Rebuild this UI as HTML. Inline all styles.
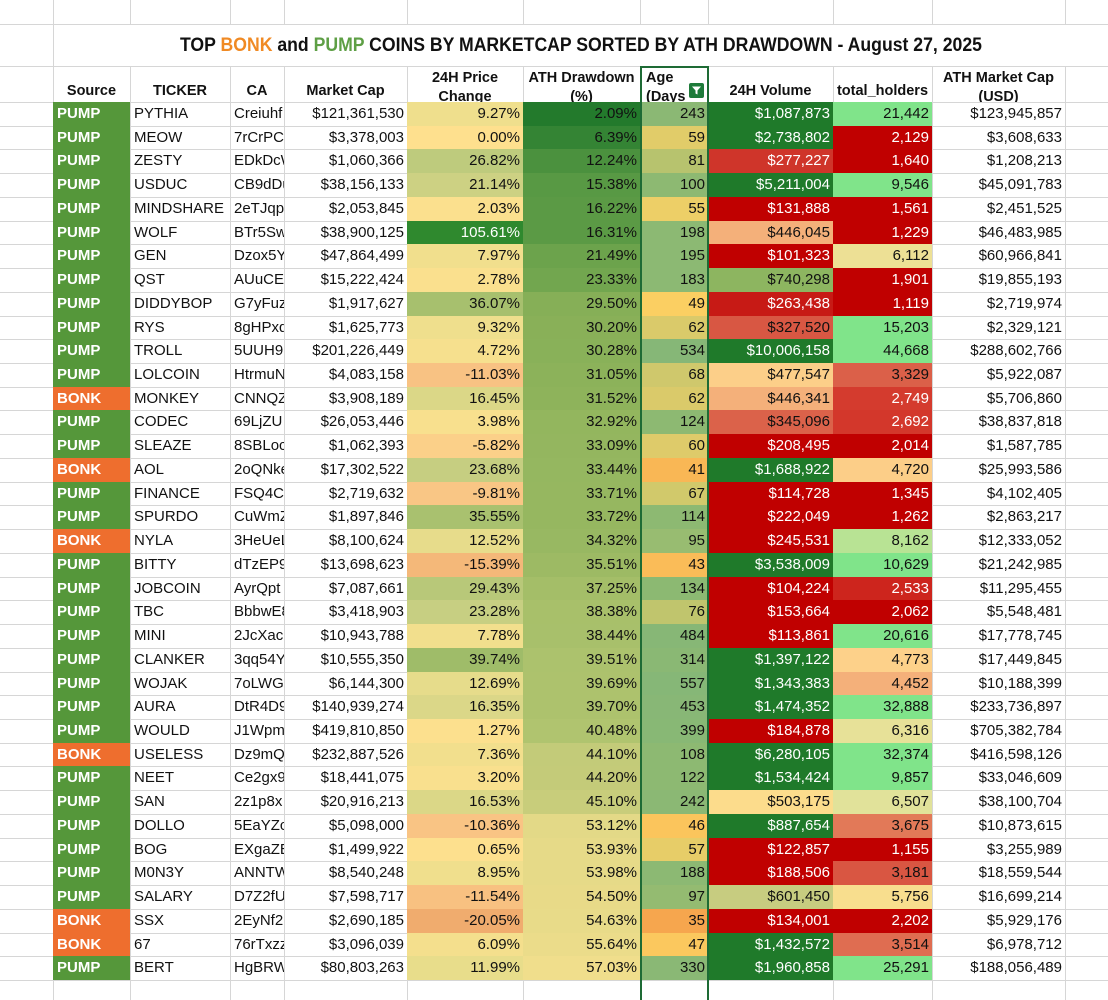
<!DOCTYPE html>
<html><head><meta charset="utf-8">
<style>
html,body{margin:0;padding:0;background:#fff;}
#sheet{position:relative;width:1108px;height:1000px;overflow:hidden;background:#fff;font-family:"Liberation Sans",sans-serif;}
.vl{position:absolute;width:1px;background:#d6d6d6;}
.hl{position:absolute;height:1px;background:#d6d6d6;}
.c{position:absolute;box-sizing:border-box;overflow:hidden;white-space:nowrap;font-size:15px;line-height:23px;color:#111;}
.l{padding-left:4px;text-align:left;}
.r{padding-right:3px;text-align:right;}
.src{color:#fff;font-weight:bold;}
.h{position:absolute;box-sizing:border-box;overflow:hidden;font-weight:bold;font-size:14.5px;text-align:center;color:#111;line-height:19px;}
</style></head>
<body>
<div id="sheet">
  <div id="title" style="position:absolute;left:53px;top:28px;width:1055px;height:36px;text-align:center;line-height:36px;font-weight:bold;font-size:19px;color:#111;white-space:nowrap;"><span id="tspan" style="display:inline-block;transform-origin:center;">TOP <span style="color:#F08A24">BONK</span> and <span style="color:#5E9F45">PUMP</span> COINS BY MARKETCAP SORTED BY ATH DRAWDOWN - August 27, 2025</span></div>
</div>
<script>
const sources=["PUMP","PUMP","PUMP","PUMP","PUMP","PUMP","PUMP","PUMP","PUMP","PUMP","PUMP","PUMP","BONK","PUMP","PUMP","BONK","PUMP","PUMP","BONK","PUMP","PUMP","PUMP","PUMP","PUMP","PUMP","PUMP","PUMP","BONK","PUMP","PUMP","PUMP","PUMP","PUMP","PUMP","BONK","BONK","PUMP"];
const tickers=["PYTHIA","MEOW","ZESTY","USDUC","MINDSHARE","WOLF","GEN","QST","DIDDYBOP","RYS","TROLL","LOLCOIN","MONKEY","CODEC","SLEAZE","AOL","FINANCE","SPURDO","NYLA","BITTY","JOBCOIN","TBC","MINI","CLANKER","WOJAK","AURA","WOULD","USELESS","NEET","SAN","DOLLO","BOG","M0N3Y","SALARY","SSX","67","BERT"];
const cas=["Creiuhf","7rCrPCf","EDkDcW","CB9dDu","2eTJqpI","BTr5Sw","Dzox5Y","AUuCEk","G7yFuz","8gHPxq","5UUH9","HtrmuN","CNNQZ","69LjZU","8SBLocl","2oQNke","FSQ4CB","CuWmZ","3HeUeL","dTzEP9","AyrQpt","BbbwE8","2JcXacF","3qq54Y","7oLWGI","DtR4D9","J1Wpm","Dz9mQ","Ce2gx9","2z1p8x","5EaYZc","EXgaZE","ANNTW","D7Z2fU","2EyNf2I","76rTxzz","HgBRW"];
const marketCap=[121361530,3378003,1060366,38156133,2053845,38900125,47864499,15222424,1917627,1625773,201226449,4083158,3908189,26053446,1062393,17302522,2719632,1897846,8100624,13698623,7087661,3418903,10943788,10555350,6144300,140939274,419810850,232887526,18441075,20916213,5098000,1499922,8540248,7598717,2690185,3096039,80803263];
const priceChange=[9.27,0.00,26.82,21.14,2.03,105.61,7.97,2.78,36.07,9.32,4.72,-11.03,16.45,3.98,-5.82,23.68,-9.81,35.55,12.52,-15.39,29.43,23.28,7.78,39.74,12.69,16.35,1.27,7.36,3.20,16.53,-10.36,0.65,8.95,-11.54,-20.05,6.09,11.99];
const drawdown=[2.09,6.39,12.24,15.38,16.22,16.31,21.49,23.33,29.50,30.20,30.28,31.05,31.52,32.92,33.09,33.44,33.71,33.72,34.32,35.51,37.25,38.38,38.44,39.51,39.69,39.70,40.48,44.10,44.20,45.10,53.12,53.93,53.98,54.50,54.63,55.64,57.03];
const ageDays=[243,59,81,100,55,198,195,183,49,62,534,68,62,124,60,41,67,114,95,43,134,76,484,314,557,453,399,108,122,242,46,57,188,97,35,47,330];
const volume=[1087873,2738802,277227,5211004,131888,446045,101323,740298,263438,327520,10006158,477547,446341,345096,208495,1688922,114728,222049,245531,3538009,104224,153664,113861,1397122,1343383,1474352,184878,6280105,1534424,503175,887654,122857,188506,601450,134001,1432572,1960858];
const holders=[21442,2129,1640,9546,1561,1229,6112,1901,1119,15203,44668,3329,2749,2692,2014,4720,1345,1262,8162,10629,2533,2062,20616,4773,4452,32888,6316,32374,9857,6507,3675,1155,3181,5756,2202,3514,25291];
const athCap=[123945857,3608633,1208213,45091783,2451525,46483985,60966841,19855193,2719974,2329121,288602766,5922087,5706860,38837818,1587785,25993586,4102405,2863217,12333052,21242985,11295455,5548481,17778745,17449845,10188399,233736897,705382784,416598126,33046609,38100704,10873615,3255989,18559544,16699214,5929176,6978712,188056489];

const sheet=document.getElementById('sheet');
const colX=[0,53,130,230,284,407,523,640,708,833,932,1065,1108];
const rowTop=102, rowH=23.73, nRows=sources.length;

function hex(h){return [parseInt(h.substr(1,2),16),parseInt(h.substr(3,2),16),parseInt(h.substr(5,2),16)];}
function scale(stops,v){
  if(v<=stops[0][0]) return stops[0][1];
  for(let i=1;i<stops.length;i++){
    if(v<=stops[i][0]){
      const a=stops[i-1],b=stops[i],t=(v-a[0])/(b[0]-a[0]);
      const ca=hex(a[1]),cb=hex(b[1]);
      return 'rgb('+ca.map((x,k)=>Math.round(x+(cb[k]-x)*t)).join(',')+')';
    }
  }
  return stops[stops.length-1][1];
}
const pcStops=[[-20,'#F0AC6E'],[-10,'#F9C585'],[0,'#FEE08E'],[10,'#EEDF8D'],[24,'#C5CE81'],[39,'#A0BD6A'],[106,'#2E892E']];
const ddStops=[[2,'#237A2C'],[16,'#5A9A45'],[30,'#88B058'],[40,'#AEC36E'],[45,'#C8CD7B'],[57,'#F0DE8C']];
const ageStops=[[35,'#F6A64E'],[45,'#FBC25A'],[50,'#FBD264'],[60,'#DECB6A'],[80,'#B9C46E'],[100,'#8DB972'],[560,'#86B777']];
const volStops=[[0,'#C00000'],[250000,'#C00000'],[280000,'#D03A2E'],[340000,'#DA5E48'],[446000,'#F4B07A'],[480000,'#FDD18A'],[503000,'#FCDC8C'],[600000,'#C8CC80'],[740000,'#8DB560'],[880000,'#1F7A2A'],[1e9,'#1F7A2A']];
const holdStops=[[0,'#C00000'],[2200,'#C00000'],[2700,'#D3382C'],[3300,'#DA5E48'],[4452,'#F4B07A'],[4750,'#FDD18A'],[5756,'#F8DE8E'],[6400,'#E4E29A'],[8162,'#B8E394'],[9500,'#80E48A'],[1e9,'#80E48A']];

const fmtMoney=v=>'$'+v.toLocaleString('en-US');
const fmtInt=v=>v.toLocaleString('en-US');
const fmtPct=v=>v.toFixed(2)+'%';

function cell(col,row,text,cls,bg,color,name){
  const d=document.createElement('div');
  d.className='c '+cls;
  const y=rowTop+row*rowH;
  d.style.left=colX[col]+'px';
  d.style.width=(colX[col+1]-colX[col])+'px';
  d.style.top=y+'px';
  d.style.height=rowH+'px';
  d.style.lineHeight=rowH+'px';
  if(bg) d.style.background=bg;
  if(color) d.style.color=color;
  d.textContent=text;
  
  
  sheet.appendChild(d);
}

for(let i=1;i<colX.length-1;i++){
  const v=document.createElement('div');
  v.className='vl';
  v.style.left=colX[i]+'px';
  v.style.top='66px';v.style.height='934px';
  
  
  sheet.appendChild(v);
  const t=document.createElement('div');
  t.className='vl';
  t.style.left=colX[i]+'px';
  t.style.top='0px';t.style.height='24px';
  
  
  sheet.appendChild(t);
}
{const t=document.createElement('div');t.className='vl';t.style.left='53px';t.style.top='24px';t.style.height='42px';


sheet.appendChild(t);}
const hys=[24,66,102];
for(let r=1;r<=nRows+1;r++) hys.push(Math.round(rowTop+r*rowH));
hys.forEach(y=>{
  const h=document.createElement('div');
  h.className='hl';
  h.style.left='0px';h.style.width='1108px';h.style.top=y+'px';
  
  
  sheet.appendChild(h);
});

const headers=[[1,['Source']],[2,['TICKER']],[3,['CA']],[4,['Market Cap']],[5,['24H Price','Change']],[6,['ATH Drawdown','(%)']],[7,['Age','(Days']],[8,['24H Volume']],[9,['total_holders']],[10,['ATH Market Cap','(USD)']]];
headers.forEach(([c,lines])=>{
  const d=document.createElement('div');
  d.className='h';
  d.style.left=colX[c]+'px';
  d.style.width=(colX[c+1]-colX[c])+'px';
  d.style.top='67px';d.style.height='35px';
  if(lines.length===1){d.style.paddingTop='15px';d.textContent=lines[0];}
  else{d.style.paddingTop='2px';d.innerHTML=lines[0]+'<br>'+lines[1];}
  if(c===7){d.style.textAlign='left';d.style.paddingLeft='6px';}
  
  
  sheet.appendChild(d);
});

for(let i=0;i<nRows;i++){
  cell(1,i,sources[i],'l src',sources[i]==='PUMP'?'#55973A':'#EE6E2E','#fff','source-'+sources[i].toLowerCase());
  cell(2,i,tickers[i],'l','',null,'ticker-cell');
  cell(3,i,cas[i],'l','',null,'ca-cell');
  cell(4,i,fmtMoney(marketCap[i]),'r','',null,'market-cap-cell');
  const pcBg=scale(pcStops,priceChange[i]);
  cell(5,i,fmtPct(priceChange[i]),'r',pcBg,priceChange[i]>80?'#fff':null,'price-change-cell');
  cell(6,i,fmtPct(drawdown[i]),'r',scale(ddStops,drawdown[i]),null,'drawdown-cell');
  cell(7,i,fmtInt(ageDays[i]),'r',scale(ageStops,ageDays[i]),null,'age-cell');
  const vDark=volume[i]<300000||volume[i]>=880000;
  cell(8,i,fmtMoney(volume[i]),'r',scale(volStops,volume[i]),vDark?'#fff':null,'volume-cell');
  cell(9,i,fmtInt(holders[i]),'r',scale(holdStops,holders[i]),holders[i]<3000?'#fff':null,'holders-cell');
  cell(10,i,fmtMoney(athCap[i]),'r','',null,'ath-market-cap-cell');
}

[640,707].forEach(x=>{
  const v=document.createElement('div');
  v.style.position='absolute';v.style.left=x+'px';v.style.top='66px';v.style.width='1.5px';v.style.height='934px';v.style.background='#1E6B35';
  
  
  sheet.appendChild(v);
});
{const v=document.createElement('div');v.style.position='absolute';v.style.left='640px';v.style.top='66px';v.style.width='68px';v.style.height='1.5px';v.style.background='#1E6B35';


sheet.appendChild(v);}
{const f=document.createElement('div');
f.style.cssText='position:absolute;left:689px;top:83px;width:15px;height:15px;background:#1E7B3A;border-radius:2px;';
f.innerHTML='<svg width="15" height="15" viewBox="0 0 15 15"><path d="M3 3.5 H12 L8.5 7.5 V11.5 L6.5 10.5 V7.5 Z" fill="#fff"/></svg>';


sheet.appendChild(f);}

const ts=document.getElementById('tspan');
const w=ts.getBoundingClientRect().width;
ts.style.transform='scaleX('+(802/w)+')';
</script>
</body></html>
